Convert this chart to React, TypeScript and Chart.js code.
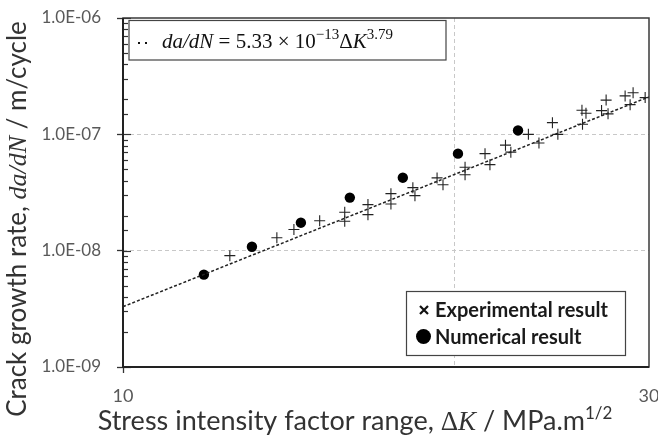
import React, { useEffect, useRef } from 'react';
import { Chart, registerables } from 'chart.js';

Chart.register(...registerables);

// ---- data ----
const experimentalK = [12.5, 13.79, 14.29, 15.08, 15.89, 15.89, 16.68, 16.68, 17.5, 17.5, 18.32, 18.4, 19.27, 19.51, 20.43, 20.43, 21.3, 21.52, 22.23, 22.48, 23.32, 23.84, 24.52, 24.8, 26.08, 26.3, 26.11, 27.17, 27.43, 27.54, 28.54, 29.02, 28.84, 29.76];
const experimentalRate = [9.06e-9, 1.29e-8, 1.52e-8, 1.81e-8, 2.14e-8, 1.79e-8, 2.49e-8, 2.04e-8, 3.09e-8, 2.52e-8, 3.48e-8, 2.97e-8, 4.22e-8, 3.69e-8, 5.22e-8, 4.5e-8, 6.82e-8, 5.49e-8, 8.07e-8, 7.03e-8, 1.0e-7, 8.43e-8, 1.26e-7, 1.0e-7, 1.61e-7, 1.52e-7, 1.22e-7, 1.6e-7, 1.97e-7, 1.5e-7, 2.14e-7, 2.28e-7, 1.8e-7, 2.07e-7];
const numericalK = [11.84, 13.09, 14.5, 16.06, 17.94, 20.13, 22.82];
const numericalRate = [6.22e-9, 1.08e-8, 1.74e-8, 2.86e-8, 4.24e-8, 6.82e-8, 1.08e-7];
const fitK = [10, 30];
const fitRate = [3.3e-9, 2.1e-7];
const xTickValues = [10, 20, 30];
const xTickLabels = ['10', '', '30'];
const yMin = 1e-9;
const yMax = 1e-6;
const legendLabels = ['Experimental result', 'Numerical result'];

const SANS = 'Lato, "Open Sans", sans-serif';
const SERIF = '"Liberation Serif", "DejaVu Serif", serif';

const isMajor = (v: any) => {
  if (typeof v !== 'number' || v <= 0) return false;
  const l = Math.log10(v);
  return Math.abs(l - Math.round(l)) < 1e-6;
};
const fmtE = (v: number) => {
  const e = Math.round(Math.log10(v));
  const s = e < 0 ? '-' : '+';
  return '1.0E' + s + String(Math.abs(e)).padStart(2, '0');
};

type Seg = { t: string; f: string; dy?: number };
function segsWidth(ctx: CanvasRenderingContext2D, segs: Seg[]) {
  let w = 0;
  for (const s of segs) {
    ctx.font = s.f;
    w += ctx.measureText(s.t).width;
  }
  return w;
}
function drawSegs(ctx: CanvasRenderingContext2D, segs: Seg[], x: number, y: number) {
  let cx = x;
  for (const s of segs) {
    ctx.font = s.f;
    ctx.fillText(s.t, cx, y + (s.dy || 0));
    cx += ctx.measureText(s.t).width;
  }
}

const decorPlugin = {
  id: 'decor',
  afterDraw(chart: any) {
    const ctx: CanvasRenderingContext2D = chart.ctx;
    const { left, right, top, bottom } = chart.chartArea;
    const yScale = chart.scales.y;
    ctx.save();

    // inner ticks on y axis
    ctx.strokeStyle = '#333';
    ctx.lineWidth = 1.2;
    for (const t of yScale.ticks) {
      const py = Math.round(yScale.getPixelForValue(t.value)) + 0.5;
      const len = isMajor(t.value) ? 8 : 5;
      ctx.beginPath();
      ctx.moveTo(left, py);
      ctx.lineTo(left + len, py);
      ctx.stroke();
    }

    // frame
    ctx.strokeStyle = '#3a3a3a';
    ctx.lineWidth = 1.5;
    ctx.strokeRect(left, top, right - left, bottom - top);
    ctx.strokeStyle = '#222';
    ctx.lineWidth = 2;
    ctx.beginPath();
    ctx.moveTo(left, top);
    ctx.lineTo(left, bottom);
    ctx.lineTo(right, bottom);
    ctx.stroke();

    // top-left fit legend
    const bx = left + 6, by = top + 2.5, bw = 317, bh = 39.5;
    ctx.fillStyle = '#fff';
    ctx.fillRect(bx, by, bw, bh);
    ctx.strokeStyle = '#444';
    ctx.lineWidth = 1.2;
    ctx.strokeRect(bx, by, bw, bh);
    ctx.setLineDash([2, 5]);
    ctx.strokeStyle = '#111';
    ctx.lineWidth = 2;
    ctx.beginPath();
    ctx.moveTo(bx + 9, by + 22.5);
    ctx.lineTo(bx + 22, by + 22.5);
    ctx.stroke();
    ctx.setLineDash([]);
    ctx.fillStyle = '#111';
    ctx.textBaseline = 'alphabetic';
    ctx.textAlign = 'left';
    const mf = 21;
    const it = `italic ${mf}px ${SERIF}`;
    const up = `${mf}px ${SERIF}`;
    const sup = `${Math.round(mf * 0.7)}px ${SERIF}`;
    drawSegs(ctx, [
      { t: 'da/dN', f: it },
      { t: ' = 5.33 \u00d7 10', f: up },
      { t: '\u221213', f: sup, dy: -9 },
      { t: '\u0394', f: up },
      { t: 'K', f: it },
      { t: '3.79', f: sup, dy: -9 },
    ], bx + 33, by + 27.5);

    // bottom-right legend
    const lx = right - 242.5, ly = bottom - 75.5, lw = 219, lh = 64;
    ctx.fillStyle = '#fff';
    ctx.fillRect(lx, ly, lw, lh);
    ctx.strokeStyle = '#444';
    ctx.lineWidth = 1.2;
    ctx.strokeRect(lx, ly, lw, lh);
    const c1x = lx + 17.5, c1y = ly + 18.5;
    ctx.strokeStyle = '#111';
    ctx.lineWidth = 2.2;
    ctx.beginPath();
    ctx.moveTo(c1x - 4, c1y - 4);
    ctx.lineTo(c1x + 4, c1y + 4);
    ctx.moveTo(c1x + 4, c1y - 4);
    ctx.lineTo(c1x - 4, c1y + 4);
    ctx.stroke();
    ctx.fillStyle = '#000';
    ctx.beginPath();
    ctx.arc(lx + 17, ly + 45, 7.5, 0, Math.PI * 2);
    ctx.fill();
    ctx.fillStyle = '#1a1a1a';
    ctx.textBaseline = 'middle';
    ctx.font = `bold 20px ${SANS}`;
    ctx.fillText(legendLabels[0], lx + 28.5, c1y + 1);
    ctx.fillText(legendLabels[1], lx + 28.5, ly + 46);

    // axis titles
    ctx.fillStyle = '#333';
    ctx.textBaseline = 'alphabetic';
    const yf = 26;
    const ySegs: Seg[] = [
      { t: 'Crack growth rate, ', f: `${yf}px ${SANS}` },
      { t: 'da/dN', f: `italic ${yf}px ${SERIF}` },
      { t: ' / m/cycle', f: `${yf}px ${SANS}` },
    ];
    const yw = segsWidth(ctx, ySegs);
    ctx.save();
    ctx.translate(left - 97, 219);
    ctx.rotate(-Math.PI / 2);
    drawSegs(ctx, ySegs, -yw / 2, 0);
    ctx.restore();

    const xf = 27;
    const xSegs: Seg[] = [
      { t: 'Stress intensity factor range, ', f: `${xf}px ${SANS}` },
      { t: '\u0394', f: `${xf}px ${SERIF}` },
      { t: 'K', f: `italic ${xf}px ${SERIF}` },
      { t: ' / MPa.m', f: `${xf}px ${SANS}` },
      { t: '1/2', f: `17px ${SANS}`, dy: -11 },
    ];
    const xw = segsWidth(ctx, xSegs);
    drawSegs(ctx, xSegs, 355 - xw / 2, bottom + 63);

    ctx.restore();
  },
};

export default function App() {
  const ref = useRef<HTMLCanvasElement | null>(null);
  useEffect(() => {
    document.body.style.margin = '0';
    const canvas = ref.current;
    if (!canvas) return;
    const chart = new Chart(canvas, {
      type: 'scatter',
      data: {
        datasets: [
          {
            label: 'fit',
            type: 'line',
            data: fitK.map((k, i) => ({ x: k, y: fitRate[i] })),
            borderColor: '#222',
            borderWidth: 1.5,
            borderDash: [3, 2],
            pointRadius: 0,
            fill: false,
            tension: 0,
          } as any,
          {
            label: legendLabels[0],
            data: experimentalK.map((k, i) => ({ x: k, y: experimentalRate[i] })),
            pointStyle: 'cross',
            pointRadius: 5.5,
            borderColor: '#222',
            borderWidth: 1.1,
            backgroundColor: '#222',
          },
          {
            label: legendLabels[1],
            data: numericalK.map((k, i) => ({ x: k, y: numericalRate[i] })),
            pointStyle: 'circle',
            pointRadius: 5.2,
            borderWidth: 0,
            backgroundColor: '#000',
          },
        ],
      },
      options: {
        responsive: false,
        animation: false,
        layout: { padding: { top: 18, right: 9, left: 0, bottom: 0 } },
        plugins: { legend: { display: false }, tooltip: { enabled: false } },
        scales: {
          x: {
            type: 'logarithmic',
            min: 10,
            max: 30,
            afterBuildTicks: (s: any) => {
              s.ticks = xTickValues.map((v) => ({ value: v }));
            },
            afterFit: (s: any) => {
              s.height = 68;
              s.paddingLeft = 0;
              s.paddingRight = 0;
            },
            grid: {
              color: (c: any) => (c.tick && c.tick.value === 20 ? '#c8c8c8' : 'transparent'),
              lineWidth: 1,
              tickLength: 6,
              tickWidth: 1.3,
              tickColor: (c: any) => (c.tick && c.tick.value === 10 ? '#333' : 'transparent'),
            },
            border: { display: false, dash: [4, 3] },
            ticks: {
              autoSkip: false,
              maxRotation: 0,
              padding: 12,
              color: '#595959',
              font: { family: SANS, size: 18 },
              callback: (_v: any, i: number) => xTickLabels[i],
            },
          },
          y: {
            type: 'logarithmic',
            min: yMin,
            max: yMax,
            afterFit: (s: any) => {
              s.width = 123;
              s.paddingTop = 0;
              s.paddingBottom = 0;
            },
            grid: {
              color: (c: any) =>
                c.tick && isMajor(c.tick.value) && c.tick.value > yMin * 1.01 && c.tick.value < yMax * 0.99
                  ? '#c8c8c8'
                  : 'transparent',
              lineWidth: 1,
              tickLength: 6,
              tickWidth: 1.3,
              tickColor: (c: any) => (c.tick && isMajor(c.tick.value) ? '#333' : 'transparent'),
            },
            border: { display: false, dash: [4, 3] },
            ticks: {
              autoSkip: false,
              padding: 16,
              color: '#595959',
              font: { family: SANS, size: 17 },
              callback: (v: any) => (isMajor(v) ? fmtE(v) : ''),
            },
          },
        },
      },
      plugins: [decorPlugin],
    } as any);
    return () => chart.destroy();
  }, []);
  return <canvas ref={ref} width={658} height={435} style={{ display: 'block' }} />;
}
